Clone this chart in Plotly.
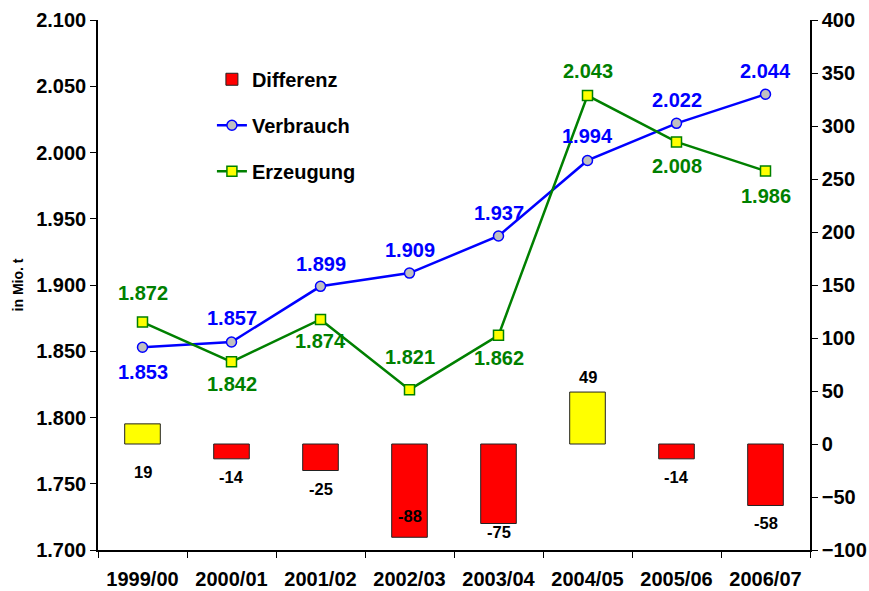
import plotly.graph_objects as go

# Daten
jahre = ['1999/00', '2000/01', '2001/02', '2002/03', '2003/04', '2004/05', '2005/06', '2006/07']
verbrauch = [1.853, 1.857, 1.899, 1.909, 1.937, 1.994, 2.022, 2.044]
erzeugung = [1.872, 1.842, 1.874, 1.821, 1.862, 2.043, 2.008, 1.986]
differenz = [19, -14, -25, -88, -75, 49, -14, -58]

# label offsets in px (positive = up)
verbrauch_shift = [-25, 24, 22, 23, 23, 24, 23, 23]
erzeugung_shift = [29, -22, -22, 33, -23, 25, -24, -25]
differenz_shift = [-48, -18, -18, 21, -8, 15, -18, -18]

font = 'Liberation Sans, Arial, sans-serif'

fig = go.Figure()

# bars: red for negative, yellow for positive
neg = [d if d < 0 else None for d in differenz]
pos = [d if d >= 0 else None for d in differenz]
fig.add_trace(go.Bar(x=jahre, y=neg, name='Differenz', yaxis='y2', width=0.4,
                     marker=dict(color='#FF0000', line=dict(color='#222222', width=1)),
                     legendgroup='a'))
fig.add_trace(go.Bar(x=jahre, y=pos, name='Differenz', yaxis='y2', width=0.4, showlegend=False,
                     marker=dict(color='#FFFF00', line=dict(color='#222222', width=1)),
                     legendgroup='a'))

fig.add_trace(go.Scatter(x=jahre, y=verbrauch, name='Verbrauch', mode='lines+markers',
                         line=dict(color='#0000FF', width=2.5),
                         marker=dict(symbol='circle', size=10, color='#C0C0C0', line=dict(color='#0000FF', width=1.5)),
                         legendgroup='b'))
fig.add_trace(go.Scatter(x=jahre, y=erzeugung, name='Erzeugung', mode='lines+markers',
                         line=dict(color='#008000', width=2.5),
                         marker=dict(symbol='square', size=10, color='#FFFF00', line=dict(color='#008000', width=1.5)),
                         legendgroup='c'))

annotations = []
for j, v, s in zip(jahre, verbrauch, verbrauch_shift):
  annotations.append(dict(x=j, y=v, xref='x', yref='y', text=f'{v:.3f}', showarrow=False, yshift=s,
                          font=dict(family=font, size=20, color='#0000FF', weight='bold')))
for j, v, s in zip(jahre, erzeugung, erzeugung_shift):
  annotations.append(dict(x=j, y=v, xref='x', yref='y', text=f'{v:.3f}', showarrow=False, yshift=s,
                          font=dict(family=font, size=20, color='#008000', weight='bold')))
for j, v, s in zip(jahre, differenz, differenz_shift):
  annotations.append(dict(x=j, y=v, xref='x', yref='y2', text=str(v), showarrow=False, yshift=s,
                          font=dict(family=font, size=16.5, color='black', weight='bold')))

fig.update_layout(
    width=869, height=591,
    margin=dict(l=98, r=59, t=20, b=41),
    plot_bgcolor='white', paper_bgcolor='white',
    barmode='overlay',
    font=dict(family=font, size=20, color='black', weight='bold'),
    annotations=annotations,
    legend=dict(x=0.16, y=0.925, xanchor='left', yanchor='top', tracegroupgap=17,
                font=dict(family=font, size=20, color='black', weight='bold'),
                bgcolor='rgba(0,0,0,0)'),
    xaxis=dict(type='category', showline=True, linecolor='black', linewidth=1.5,
               ticks='outside', tickson='boundaries', ticklen=6, tickcolor='black',
               showgrid=False, automargin=False, ticklabelstandoff=10),
    yaxis=dict(range=[1.7, 2.1], dtick=0.05, tickformat='.3f', showline=True, linecolor='black',
               linewidth=1.5, ticks='outside', ticklen=6, tickcolor='black', showgrid=False,
               zeroline=False, automargin=False,
               title=dict(text='in Mio. t', font=dict(family=font, size=14, weight='bold'), standoff=9)),
    yaxis2=dict(range=[-100, 400], dtick=50, overlaying='y', side='right', showline=True,
                linecolor='black', linewidth=1.5, ticks='outside', ticklen=6, tickcolor='black',
                showgrid=False, zeroline=False, automargin=False),
)

# remove default page margin so the 869x591 figure fits the window
fig.write_html('out.html', config={'displayModeBar': False},
               post_script="document.body.style.margin='0';")
